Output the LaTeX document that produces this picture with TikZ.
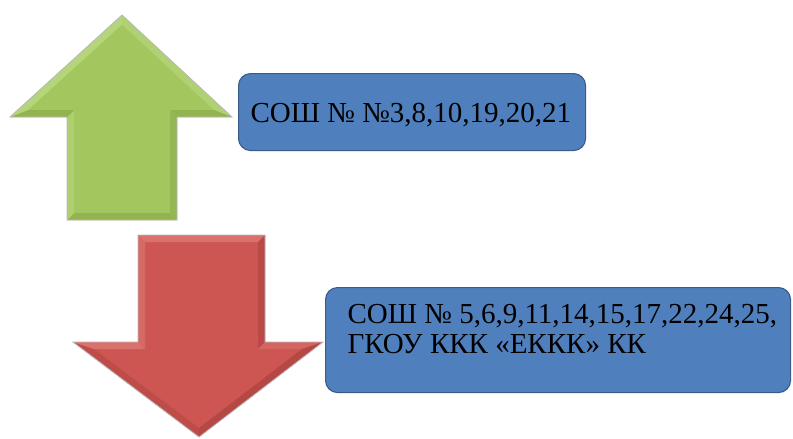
\documentclass[tikz,border=0pt]{standalone}
\usepackage{fontspec}
\setmainfont{Liberation Serif}
\definecolor{gbase}{HTML}{A3C75E}
\definecolor{glight}{HTML}{B5D57A}
\definecolor{gdark}{HTML}{92B350}
\definecolor{rbase}{HTML}{CD5652}
\definecolor{rlight}{HTML}{D9716D}
\definecolor{rdark}{HTML}{B54744}
\definecolor{boxfill}{HTML}{4F80BD}
\definecolor{boxline}{HTML}{385B88}
\begin{document}
\begin{tikzpicture}[x=1pt,y=-1pt,
  infobox/.style={draw=boxline, fill=boxfill, line width=1.1pt, rounded corners=12pt,
    inner xsep=0pt, inner ysep=4pt, anchor=north west,
    font=\fontsize{29}{30}\selectfont, text=black},
  arrowedge/.style={draw=gray!55, line width=0.8pt, line join=miter}]
\useasboundingbox (0,0) rectangle (793,439);
\fill[white] (0,0) rectangle (793,439);
% ---------- green up arrow ----------
\coordinate (gT) at (122,15);   \coordinate (gTi) at (122,24.5);
\coordinate (gRW) at (232,117); \coordinate (gRWi) at (214,110);
\coordinate (gRS) at (177,117); \coordinate (gRSi) at (170,110);
\coordinate (gRB) at (177,220); \coordinate (gRBi) at (170,213);
\coordinate (gLB) at (67,220);  \coordinate (gLBi) at (74,213);
\coordinate (gLS) at (67,117);  \coordinate (gLSi) at (74,110);
\coordinate (gLW) at (10,117);  \coordinate (gLWi) at (28,110);
\fill[gbase] (gT)--(gRW)--(gRS)--(gRB)--(gLB)--(gLS)--(gLW)--cycle;
\fill[glight!70!gbase] (gT)--(gRW)--(gRWi)--(gTi)--cycle;
\fill[gdark] (gRW)--(gRS)--(gRSi)--(gRWi)--cycle;
\fill[gdark!80!gbase] (gRS)--(gRB)--(gRBi)--(gRSi)--cycle;
\fill[gdark] (gRB)--(gLB)--(gLBi)--(gRBi)--cycle;
\fill[glight!60!gbase] (gLB)--(gLS)--(gLSi)--(gLBi)--cycle;
\fill[gdark] (gLS)--(gLW)--(gLWi)--(gLSi)--cycle;
\fill[glight] (gLW)--(gT)--(gTi)--(gLWi)--cycle;
\draw[arrowedge] (gT)--(gRW)--(gRS)--(gRB)--(gLB)--(gLS)--(gLW)--cycle;
% ---------- red down arrow ----------
\coordinate (rLT) at (138,235); \coordinate (rLTi) at (145,242);
\coordinate (rRT) at (265,235); \coordinate (rRTi) at (258,242);
\coordinate (rRS) at (265,342); \coordinate (rRSi) at (258,349);
\coordinate (rRW) at (323,342); \coordinate (rRWi) at (302,349);
\coordinate (rT) at (199,437);  \coordinate (rTi) at (199,428);
\coordinate (rLW) at (73,342);  \coordinate (rLWi) at (94,349);
\coordinate (rLS) at (138,342); \coordinate (rLSi) at (145,349);
\fill[rbase] (rLT)--(rRT)--(rRS)--(rRW)--(rT)--(rLW)--(rLS)--cycle;
\fill[rlight] (rLT)--(rRT)--(rRTi)--(rLTi)--cycle;
\fill[rdark!80!rbase] (rRT)--(rRS)--(rRSi)--(rRTi)--cycle;
\fill[rlight!60!rbase] (rRS)--(rRW)--(rRWi)--(rRSi)--cycle;
\fill[rdark] (rRW)--(rT)--(rTi)--(rRWi)--cycle;
\fill[rdark!60!rbase] (rT)--(rLW)--(rLWi)--(rTi)--cycle;
\fill[rlight] (rLW)--(rLS)--(rLSi)--(rLWi)--cycle;
\fill[rlight!70!rbase] (rLS)--(rLT)--(rLTi)--(rLSi)--cycle;
\draw[arrowedge] (rLT)--(rRT)--(rRS)--(rRW)--(rT)--(rLW)--(rLS)--cycle;
% ---------- boxes ----------
\node[infobox, minimum width=347pt, minimum height=77pt, text height=27pt, text depth=6pt]
  (boxup) at (238,73) {\parbox[t]{323pt}{\mbox{СОШ № №3,8,10,19,20,21}}};
\node[infobox, minimum width=465pt, minimum height=105pt, text height=20pt, text depth=53pt]
  (boxdown) at (325,287) {\parbox[t]{421pt}{\mbox{СОШ № 5,6,9,11,14,15,17,22,24,25,}\\\mbox{ГКОУ ККК «ЕККК» КК}}};
\end{tikzpicture}
\end{document}
